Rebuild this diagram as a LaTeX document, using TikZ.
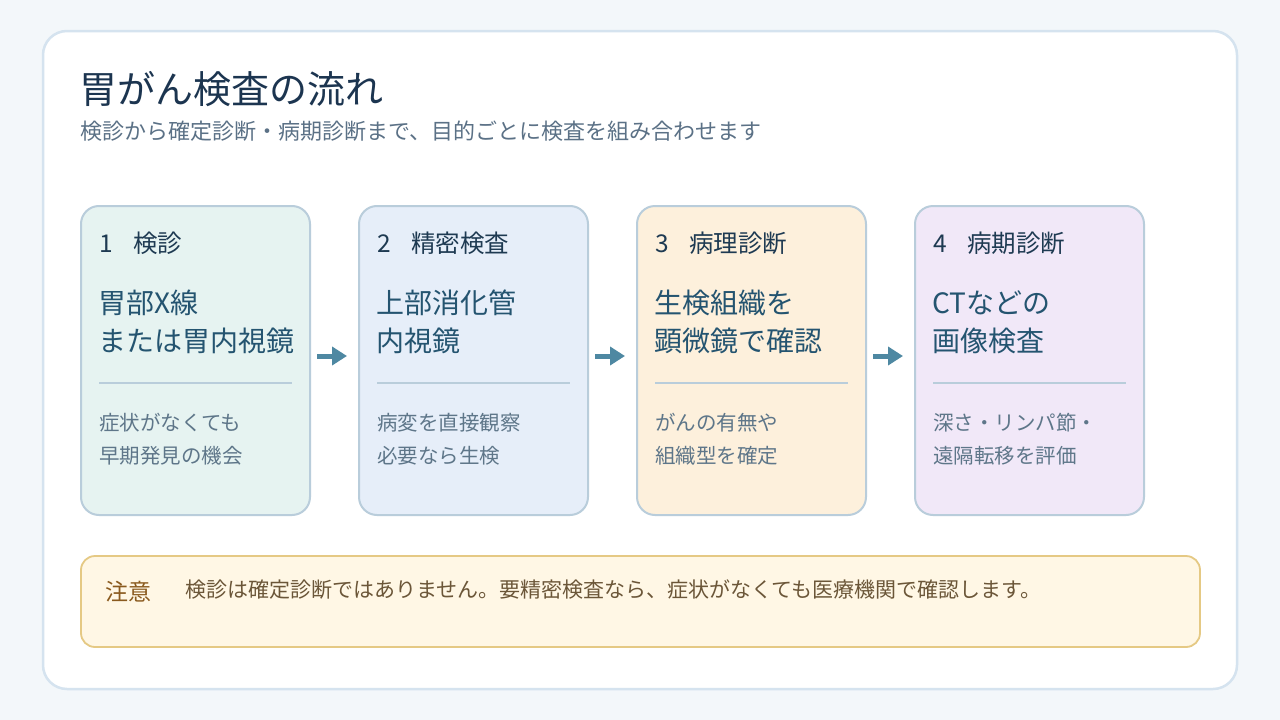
\documentclass[tikz,border=0pt]{standalone}
\usepackage{fontspec}
\setmainfont{Noto Sans CJK JP}
\usetikzlibrary{arrows.meta}
\definecolor{bg}{HTML}{F3F7FA}
\definecolor{cardline}{HTML}{D5E3EF}
\definecolor{titlec}{HTML}{1C3550}
\definecolor{subc}{HTML}{5B7186}
\definecolor{boxline}{HTML}{B9CDDB}
\definecolor{headc}{HTML}{1E3A52}
\definecolor{mainc}{HTML}{245470}
\definecolor{smallc}{HTML}{5E7689}
\definecolor{arrc}{HTML}{4E88A2}
\definecolor{fillA}{HTML}{E6F3F1}
\definecolor{fillB}{HTML}{E6EEF9}
\definecolor{fillC}{HTML}{FDF0DC}
\definecolor{fillD}{HTML}{F1E8F8}
\definecolor{notefill}{HTML}{FFF7E5}
\definecolor{noteline}{HTML}{E5C984}
\definecolor{notehead}{HTML}{8A5A1E}
\definecolor{notetext}{HTML}{6B5638}
\tikzset{
  stepbox/.style={draw=boxline, line width=2pt, rounded corners=18pt, minimum width=229pt, minimum height=309pt, inner sep=0pt},
  headtxt/.style={anchor=west, inner sep=0pt, text=headc, font=\fontsize{24.5}{28}\selectfont},
  maintxt/.style={anchor=west, inner sep=0pt, align=left, text=mainc, font=\fontsize{28}{38}\selectfont},
  smalltxt/.style={anchor=west, inner sep=0pt, align=left, text=smallc, font=\fontsize{20.5}{33}\selectfont},
  divider/.style={draw=boxline, line width=1.5pt},
  flowarrow/.style={draw=arrc, line width=5pt, -{Triangle[length=15pt, width=18pt]}}
}
\begin{document}
\begin{tikzpicture}[x=1pt, y=-1pt]
\useasboundingbox (0,0) rectangle (1280,720);
\fill[bg] (0,0) rectangle (1280,720);
\node[draw=cardline, fill=white, line width=2.5pt, rounded corners=24pt, minimum width=1194pt, minimum height=658pt, inner sep=0pt] (card) at (640,360) {};
\node[anchor=west, inner sep=0pt, text=titlec, font=\fontsize{38}{44}\selectfont] (title) at (79,89) {胃がん検査の流れ};
\node[anchor=west, inner sep=0pt, text=subc, font=\fontsize{22}{26}\selectfont] (subtitle) at (80,131) {検診から確定診断・病期診断まで、目的ごとに検査を組み合わせます};

% boxes
\node[stepbox, fill=fillA] (b1) at (195.5,360.5) {};
\node[stepbox, fill=fillB] (b2) at (473.5,360.5) {};
\node[stepbox, fill=fillC] (b3) at (751.5,360.5) {};
\node[stepbox, fill=fillD] (b4) at (1029.5,360.5) {};

% box 1
\node[headtxt] (h1) at (99,243) {1\hspace{20.5pt}検診};
\node[maintxt] (m1) at (98,322) {胃部X線\\または胃内視鏡};
\draw[divider] (99,383) -- (292,383);
\node[smalltxt] (s1) at (99,439.5) {症状がなくても\\早期発見の機会};

% box 2
\node[headtxt] (h2) at (377,243) {2\hspace{20.5pt}精密検査};
\node[maintxt] (m2) at (376,322) {上部消化管\\内視鏡};
\draw[divider] (377,383) -- (570,383);
\node[smalltxt] (s2) at (377,439.5) {病変を直接観察\\必要なら生検};

% box 3
\node[headtxt] (h3) at (655,243) {3\hspace{20.5pt}病理診断};
\node[maintxt] (m3) at (654,322) {生検組織を\\顕微鏡で確認};
\draw[divider] (655,383) -- (848,383);
\node[smalltxt] (s3) at (655,439.5) {がんの有無や\\組織型を確定};

% box 4
\node[headtxt] (h4) at (933,243) {4\hspace{20.5pt}病期診断};
\node[maintxt] (m4) at (932,322) {CTなどの\\画像検査};
\draw[divider] (933,383) -- (1126,383);
\node[smalltxt] (s4) at (933,439.5) {深さ・リンパ節・\\遠隔転移を評価};

% arrows
\draw[flowarrow, shorten <=6pt, shorten >=11pt] ([yshift=4.5pt]b1.east) -- ([yshift=4.5pt]b2.west);
\draw[flowarrow, shorten <=6pt, shorten >=11pt] ([yshift=4.5pt]b2.east) -- ([yshift=4.5pt]b3.west);
\draw[flowarrow, shorten <=6pt, shorten >=11pt] ([yshift=4.5pt]b3.east) -- ([yshift=4.5pt]b4.west);

% note
\node[draw=noteline, fill=notefill, line width=1.8pt, rounded corners=14pt, minimum width=1119pt, minimum height=91pt, inner sep=0pt] (note) at (640.5,601.5) {};
\node[anchor=west, inner sep=0pt, text=notehead, font=\fontsize{23}{26}\selectfont] (notehd) at (105,592) {注意};
\node[anchor=west, inner sep=0pt, text=notetext, font=\fontsize{21}{24}\selectfont] (notetx) at (185,590) {検診は確定診断ではありません。要精密検査なら、症状がなくても医療機関で確認します。};
\end{tikzpicture}
\end{document}
